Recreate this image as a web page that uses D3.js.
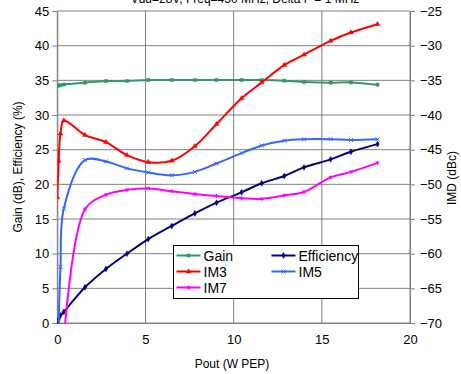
<!DOCTYPE html>
<html>
<head>
<meta charset="utf-8">
<script src="https://cdn.jsdelivr.net/npm/d3@7"></script>
<style>
  body { margin: 0; background: #fff; }
  text { font-family: "Liberation Sans", Arial, sans-serif; fill: #000; }
</style>
</head>
<body>
<div id="chart"></div>
<script>
// Pout (W PEP) measurement points
const pout = [0.0, 0.08, 0.18, 0.37, 1.57, 2.76, 3.95, 5.16, 6.49, 7.8, 9.03, 10.45, 11.59, 12.87, 13.99, 15.5, 16.65, 18.16];
// left axis
const gain = [34.2, 34.25, 34.3, 34.4, 34.66, 34.9, 34.9, 35.05, 35.05, 35.05, 35.05, 35.05, 35.05, 34.95, 34.76, 34.66, 34.7, 34.37];
const efficiency = [0.2, 0.6, 1.1, 1.6, 5.15, 7.8, 10.0, 12.1, 14.0, 15.8, 17.35, 18.85, 20.15, 21.2, 22.45, 23.6, 24.7, 25.8];
// right axis (dBc)
const im3 = [-51.9, -46.6, -42.7, -40.8, -42.9, -43.9, -45.8, -46.8, -46.6, -44.5, -41.3, -37.6, -35.3, -32.8, -31.3, -29.3, -28.1, -26.9];
const im5 = [null, -69.8, -61.9, -53.5, -46.5, -46.7, -47.7, -48.3, -48.7, -48.2, -47.0, -45.5, -44.4, -43.7, -43.5, -43.5, -43.6, -43.5];
const im7 = [null, null, null, -72.4, -53.6, -51.5, -50.8, -50.6, -51.0, -51.4, -51.7, -52.0, -52.1, -51.6, -51.1, -49.0, -48.2, -46.9];

const leftTicks = [0, 5, 10, 15, 20, 25, 30, 35, 40, 45];
const rightTicks = [-70, -65, -60, -55, -50, -45, -40, -35, -30, -25];
const xTicks = [0, 5, 10, 15, 20];

const series = [
  {name: 'Gain', values: gain, axis: 'L', color: '#339966', symbol: d3.symbolSquare, size: 10, col: 0, row: 0},
  {name: 'Efficiency', values: efficiency, axis: 'L', color: '#000080', symbol: d3.symbolDiamond, size: 10, col: 1, row: 0},
  {name: 'IM3', values: im3, axis: 'R', color: '#FF0000', symbol: d3.symbolTriangle, size: 10, col: 0, row: 1},
  {name: 'IM5', values: im5, axis: 'R', color: '#3366FF', symbol: d3.symbolX, size: 12, col: 1, row: 1},
  {name: 'IM7', values: im7, axis: 'R', color: '#FF00FF', symbol: d3.symbolAsterisk, size: 12, col: 0, row: 2}
];

const width = 461, height = 374;
const plot = {left: 57.3, right: 410, top: 11, bottom: 323};

const svg = d3.select('#chart').append('svg')
  .attr('width', width)
  .attr('height', height);

const x = d3.scaleLinear().domain([0, 20]).range([plot.left, plot.right]);
const yL = d3.scaleLinear().domain([0, 45]).range([plot.bottom, plot.top]);
const yR = d3.scaleLinear().domain([-70, -25]).range([plot.bottom, plot.top]);

// title (cut off at the top, as in the original)
svg.append('text')
  .attr('x', 245).attr('y', 3)
  .attr('text-anchor', 'middle')
  .style('font-size', '12px')
  .text('Vdd=28V, Freq=450 MHz, Delta F = 1 MHz');

// gridlines
svg.append('g').selectAll('line')
  .data(leftTicks)
  .join('line')
  .attr('x1', plot.left).attr('x2', plot.right)
  .attr('y1', d => yL(d)).attr('y2', d => yL(d))
  .attr('stroke', '#808080').attr('stroke-width', 1);

svg.append('g').selectAll('line')
  .data(xTicks)
  .join('line')
  .attr('x1', d => x(d)).attr('x2', d => x(d))
  .attr('y1', plot.top).attr('y2', plot.bottom)
  .attr('stroke', '#808080').attr('stroke-width', 1);

// axes
const axisL = d3.axisLeft(yL).tickValues(leftTicks).tickSize(5).tickPadding(3);
const axisR = d3.axisRight(yR).tickValues(rightTicks).tickSize(5).tickPadding(5);
const axisB = d3.axisBottom(x).tickValues(xTicks).tickSize(0).tickPadding(12);

const gL = svg.append('g').attr('transform', `translate(${plot.left},0)`).call(axisL);
const gR = svg.append('g').attr('transform', `translate(${plot.right},0)`).call(axisR);
const gB = svg.append('g').attr('transform', `translate(0,${plot.bottom})`).call(axisB);
[gL, gR, gB].forEach(g => {
  g.select('.domain').attr('stroke', '#808080');
  g.selectAll('.tick line').attr('stroke', '#808080');
  g.selectAll('.tick text').style('font-size', '13px').style('font-family', '"Liberation Sans", Arial, sans-serif').attr('fill', '#000');
});

// axis titles
svg.append('text')
  .attr('transform', `translate(22,${(plot.top + plot.bottom) / 2}) rotate(-90)`)
  .attr('text-anchor', 'middle')
  .style('font-size', '12px')
  .text('Gain (dB), Efficiency (%)');

svg.append('text')
  .attr('transform', `translate(456,178) rotate(-90)`)
  .attr('text-anchor', 'middle')
  .style('font-size', '12px')
  .text('IMD (dBc)');

svg.append('text')
  .attr('x', 232).attr('y', 368)
  .attr('text-anchor', 'middle')
  .style('font-size', '12px')
  .text('Pout (W PEP)');

// clip
svg.append('clipPath').attr('id', 'clip')
  .append('rect')
  .attr('x', plot.left).attr('y', plot.top - 1)
  .attr('width', plot.right - plot.left).attr('height', plot.bottom - plot.top + 2);

const chart = svg.append('g').attr('clip-path', 'url(#clip)');

series.forEach(s => {
  const yScale = s.axis === 'L' ? yL : yR;
  const pts = pout.map((p, i) => ({x: p, y: s.values[i]})).filter(d => d.y != null);
  const line = d3.line()
    .x(d => x(d.x))
    .y(d => yScale(d.y))
    .curve(d3.curveCatmullRom.alpha(0.5));
  chart.append('path')
    .datum(pts)
    .attr('d', line)
    .attr('fill', 'none')
    .attr('stroke', s.color)
    .attr('stroke-width', 2);
  const sym = d3.symbol().type(s.symbol).size(s.size);
  const stroked = s.symbol === d3.symbolX || s.symbol === d3.symbolAsterisk;
  chart.append('g').selectAll('path')
    .data(pts.filter(d => yScale(d.y) <= plot.bottom + 1))
    .join('path')
    .attr('transform', d => `translate(${x(d.x)},${yScale(d.y)})`)
    .attr('d', sym)
    .attr('fill', stroked ? 'none' : s.color)
    .attr('stroke', s.color)
    .attr('stroke-width', stroked ? 1 : 0.5);
});

// legend
const legend = svg.append('g');
legend.append('rect')
  .attr('x', 173.5).attr('y', 245.5)
  .attr('width', 185).attr('height', 53)
  .attr('fill', '#fff')
  .attr('stroke', '#000').attr('stroke-width', 1);

const colX = [176.5, 271.5];
const rowY = [255.5, 271.5, 287.5];
series.forEach(s => {
  const lx = colX[s.col], ly = rowY[s.row];
  const g = legend.append('g');
  g.append('line')
    .attr('x1', lx).attr('x2', lx + 24)
    .attr('y1', ly).attr('y2', ly)
    .attr('stroke', s.color).attr('stroke-width', 2);
  const stroked = s.symbol === d3.symbolX || s.symbol === d3.symbolAsterisk;
  g.append('path')
    .attr('transform', `translate(${lx + 12},${ly})`)
    .attr('d', d3.symbol().type(s.symbol).size(s.size))
    .attr('fill', stroked ? 'none' : s.color)
    .attr('stroke', s.color)
    .attr('stroke-width', stroked ? 1 : 0.5);
  g.append('text')
    .attr('x', lx + 27).attr('y', ly + 5)
    .style('font-size', '14px')
    .text(s.name);
});
</script>
</body>
</html>
